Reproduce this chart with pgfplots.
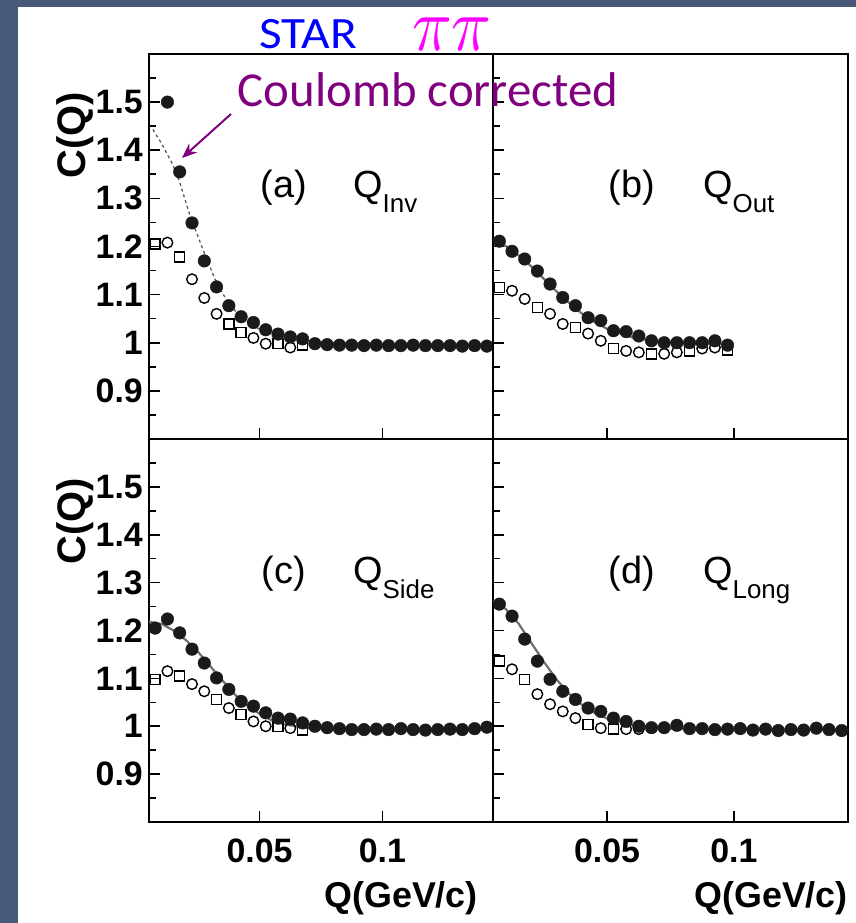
\documentclass[border=0pt]{standalone}
\usepackage{pgfplots}
\pgfplotsset{compat=1.18}
\usepackage{graphicx}
\usepackage{fontspec}
\setmainfont{Liberation Sans}
\newfontfamily\calfont{Carlito}
\usetikzlibrary{arrows.meta}
\definecolor{bgc}{HTML}{485878}
\definecolor{fitgray}{HTML}{707070}
\definecolor{ccpurple}{RGB}{128,0,128}
\definecolor{mag}{RGB}{255,0,255}
\definecolor{starblue}{RGB}{0,0,255}
\definecolor{mk}{HTML}{1A1A1A}

\pgfplotsset{
  base/.style={
    scale only axis,
    xmin=0.005, xmax=0.145, ymin=0.8, ymax=1.6,
    axis line style={line width=1.6bp, black},
    xtick={0.05,0.1}, ytick={0.9,1,1.1,1.2,1.3,1.4,1.5},
    minor ytick={0.85,0.95,1.05,1.15,1.25,1.35,1.45,1.55},
    tick align=inside, xtick pos=bottom, ytick pos=left,
    major tick length=11bp, minor tick length=7bp,
    tick style={line width=1.6bp, black},
    tick label style={font=\fontsize{34}{34}\selectfont\bfseries, inner sep=0pt},
    xticklabel style={anchor=north, yshift=-17bp},
    yticklabel style={anchor=east, xshift=-6bp},
    xticklabels={}, yticklabels={},
  },
  showx/.style={xticklabels={0.05,0.1}},
  showy/.style={yticklabels={0.9,1,1.1,1.2,1.3,1.4,1.5}},
  filled/.style={only marks, mark=*, mark size=6.3bp, mk, mark options={fill=mk, draw=mk}},
  opencirc/.style={only marks, mark=o, mark size=5.3bp, black, mark options={line width=1.4bp}},
  opensq/.style={only marks, mark=square, mark size=5bp, black, mark options={line width=1.4bp}},
  fit/.style={no marks, fitgray, line width=2.2bp},
}

\begin{document}
\begin{tikzpicture}[x=1bp,y=1bp]
\useasboundingbox (0,0) rectangle (856,923);
\fill[bgc] (0,0) rectangle (856,923);
\fill[white] (17.5,0) rectangle (856,916);

% (a) Q_inv
\begin{axis}[base, showy, at={(149bp,484bp)}, anchor=south west, width=344bp, height=385bp]
\addplot[opensq] coordinates {(0.0075,1.205) (0.0175,1.178) (0.0375,1.039) (0.0425,1.021) (0.0575,0.998) (0.0675,0.995)};
\addplot[opencirc] coordinates {(0.0125,1.208) (0.0225,1.132) (0.0275,1.093) (0.0325,1.060) (0.0475,1.010) (0.0525,0.998) (0.0625,0.990)};
\addplot[filled] coordinates {
(0.0125,1.500) (0.0175,1.355) (0.0225,1.249) (0.0275,1.170) (0.0325,1.116)
(0.0375,1.077) (0.0425,1.054) (0.0475,1.042) (0.0525,1.027) (0.0575,1.018)
(0.0625,1.012) (0.0675,1.008) (0.0725,0.998) (0.0775,0.996) (0.0825,0.995)
(0.0875,0.995) (0.0925,0.994) (0.0975,0.995) (0.1025,0.994) (0.1075,0.994)
(0.1125,0.995) (0.1175,0.994) (0.1225,0.994) (0.1275,0.994) (0.1325,0.993)
(0.1375,0.994) (0.1425,0.993)};
\addplot[no marks, fitgray!80!black, line width=1.3bp, dash pattern=on 3bp off 3bp] coordinates {
(0.0066,1.443) (0.010,1.415) (0.0147,1.370) (0.0174,1.335) (0.0215,1.267)
(0.0267,1.197) (0.0322,1.128) (0.0375,1.080) (0.0428,1.052) (0.048,1.033)
(0.055,1.017) (0.065,1.006) (0.08,0.999) (0.10,0.996) (0.143,0.995)};
\end{axis}

% (b) Q_out
\begin{axis}[base, at={(493bp,484bp)}, anchor=south west, width=355bp, height=385bp]
\addplot[opensq] coordinates {(0.0075,1.115) (0.0225,1.073) (0.0375,1.032) (0.0525,0.988) (0.0675,0.977) (0.0825,0.983) (0.0975,0.985)};
\addplot[opencirc] coordinates {(0.0125,1.108) (0.0175,1.091) (0.0275,1.060) (0.0325,1.039) (0.0425,1.019) (0.0475,1.004) (0.0575,0.983) (0.0625,0.980) (0.0725,0.977) (0.0775,0.980) (0.0875,0.988) (0.0925,0.990)};
\addplot[filled] coordinates {
(0.0075,1.211) (0.0125,1.190) (0.0175,1.174) (0.0225,1.149) (0.0275,1.122)
(0.0325,1.094) (0.0375,1.077) (0.0425,1.052) (0.0475,1.046) (0.0525,1.025)
(0.0575,1.023) (0.0625,1.014) (0.0675,1.004) (0.0725,1.000) (0.0775,1.000)
(0.0825,1.000) (0.0875,1.000) (0.0925,1.004) (0.0975,0.995)};
\addplot[fit] coordinates {
(0.005,1.213) (0.010,1.201) (0.015,1.182) (0.020,1.159) (0.025,1.133)
(0.030,1.107) (0.035,1.083) (0.040,1.061) (0.045,1.043) (0.050,1.029)
(0.060,1.011) (0.070,1.002) (0.080,0.999) (0.098,0.997)};
\end{axis}

% (c) Q_side
\begin{axis}[base, showx, showy, at={(149bp,101bp)}, anchor=south west, width=344bp, height=383bp]
\addplot[opensq] coordinates {(0.0075,1.098) (0.0175,1.105) (0.0325,1.056) (0.0425,1.025) (0.0575,1.000) (0.0675,0.992)};
\addplot[opencirc] coordinates {(0.0125,1.115) (0.0225,1.088) (0.0275,1.073) (0.0375,1.038) (0.0475,1.010) (0.0525,1.000) (0.0625,0.996)};
\addplot[filled] coordinates {
(0.0075,1.205) (0.0125,1.224) (0.0175,1.195) (0.0225,1.161) (0.0275,1.132)
(0.0325,1.101) (0.0375,1.077) (0.0425,1.052) (0.0475,1.042) (0.0525,1.028)
(0.0575,1.017) (0.0625,1.015) (0.0675,1.007) (0.0725,1.000) (0.0775,0.997)
(0.0825,0.995) (0.0875,0.993) (0.0925,0.993) (0.0975,0.994) (0.1025,0.993)
(0.1075,0.995) (0.1125,0.993) (0.1175,0.992) (0.1225,0.993) (0.1275,0.994)
(0.1325,0.993) (0.1375,0.995) (0.1425,0.998)};
\addplot[fit] coordinates {
(0.005,1.218) (0.010,1.214) (0.015,1.200) (0.020,1.180) (0.025,1.155)
(0.030,1.125) (0.035,1.095) (0.040,1.066) (0.045,1.043) (0.050,1.026)
(0.055,1.012) (0.060,1.004) (0.070,0.996) (0.080,0.993) (0.145,0.993)};
\end{axis}

% (d) Q_long
\begin{axis}[base, showx, at={(493bp,101bp)}, anchor=south west, width=355bp, height=383bp]
\addplot[opensq] coordinates {(0.0075,1.136) (0.0175,1.098) (0.0425,1.004) (0.0525,0.994)};
\addplot[opencirc] coordinates {(0.0125,1.119) (0.0225,1.067) (0.0275,1.046) (0.0325,1.031) (0.0375,1.017) (0.0475,0.996) (0.0575,0.994) (0.0625,0.994)};
\addplot[filled] coordinates {
(0.0075,1.255) (0.0125,1.230) (0.0175,1.182) (0.0225,1.136) (0.0275,1.098)
(0.0325,1.073) (0.0375,1.056) (0.0425,1.038) (0.0475,1.031) (0.0525,1.017)
(0.0575,1.010) (0.0625,1.000) (0.0675,0.997) (0.0725,0.997) (0.0775,1.002)
(0.0825,0.995) (0.0875,0.995) (0.0925,0.993) (0.0975,0.994) (0.1025,0.995)
(0.1075,0.992) (0.1125,0.994) (0.1175,0.991) (0.1225,0.993) (0.1275,0.992)
(0.1325,0.996) (0.1375,0.993) (0.1425,0.991)};
\addplot[fit] coordinates {
(0.005,1.262) (0.010,1.245) (0.015,1.215) (0.020,1.175) (0.025,1.135)
(0.030,1.098) (0.035,1.068) (0.040,1.045) (0.045,1.028) (0.050,1.016)
(0.060,1.003) (0.070,0.996) (0.080,0.994) (0.145,0.993)};
\end{axis}

% axis labels
\node[rotate=90, inner sep=0pt, font=\fontsize{40}{40}\selectfont\bfseries] at (75,788) {C(Q)};
\node[rotate=90, inner sep=0pt, font=\fontsize{40}{40}\selectfont\bfseries] at (75,402) {C(Q)};
\node[anchor=east, inner sep=0pt, font=\fontsize{36}{36}\selectfont\bfseries] at (478,25) {Q(GeV/c)};
\node[anchor=east, inner sep=0pt, font=\fontsize{36}{36}\selectfont\bfseries] at (848,25) {Q(GeV/c)};

% panel labels
\node[anchor=base, inner sep=0pt, font=\fontsize{38}{38}\selectfont] at (284,725) {(a)};
\node[anchor=base west, inner sep=0pt, font=\fontsize{38}{38}\selectfont] at (353,725) {Q\raisebox{-15bp}{\fontsize{26}{26}\selectfont Inv}};
\node[anchor=base, inner sep=0pt, font=\fontsize{38}{38}\selectfont] at (632,725) {(b)};
\node[anchor=base west, inner sep=0pt, font=\fontsize{38}{38}\selectfont] at (703,725) {Q\raisebox{-15bp}{\fontsize{26}{26}\selectfont Out}};
\node[anchor=base, inner sep=0pt, font=\fontsize{38}{38}\selectfont] at (284,339) {(c)};
\node[anchor=base west, inner sep=0pt, font=\fontsize{38}{38}\selectfont] at (353,339) {Q\raisebox{-15bp}{\fontsize{26}{26}\selectfont Side}};
\node[anchor=base, inner sep=0pt, font=\fontsize{38}{38}\selectfont] at (632,339) {(d)};
\node[anchor=base west, inner sep=0pt, font=\fontsize{38}{38}\selectfont] at (703,339) {Q\raisebox{-15bp}{\fontsize{26}{26}\selectfont Long}};

% slide annotations
\node[anchor=base, inner sep=0pt, text=starblue] at (308,874) {\scalebox{1.1}[1]{\calfont\fontsize{45}{45}\selectfont STAR}};
\node[anchor=base, inner sep=0pt, text=mag] at (452,872) {\scalebox{6.6}[7.6]{$\pi\pi$}};
\node[anchor=base, inner sep=0pt, text=ccpurple] at (428,816) {\calfont\fontsize{49}{49}\selectfont Coulomb corrected};
\draw[ccpurple, line width=2bp, -{Stealth[length=15bp, width=12bp]}] (231,809) -- (182,765);
\end{tikzpicture}
\end{document}
